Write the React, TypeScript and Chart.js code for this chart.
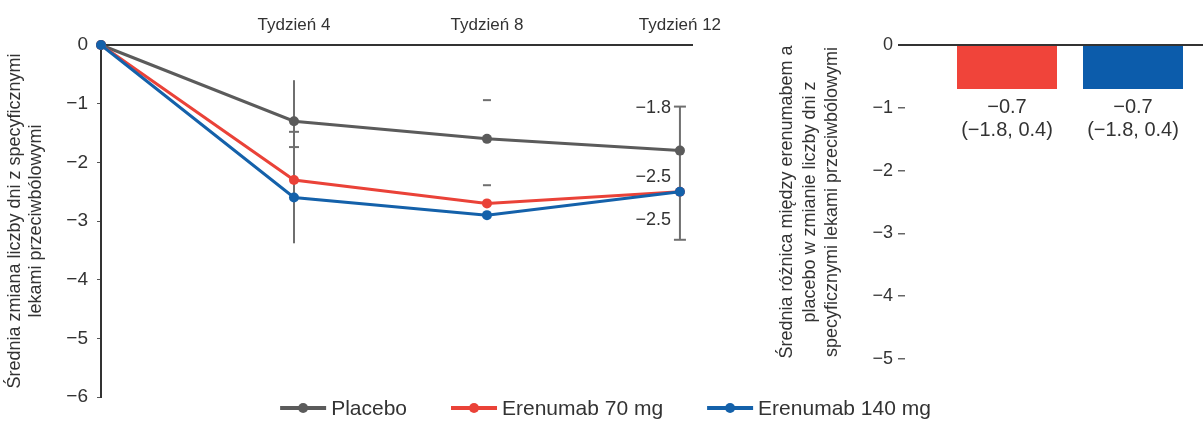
import React, { useEffect, useRef } from 'react';
import { Chart, registerables } from 'chart.js';

Chart.register(...registerables);

// Weekly change in days with acute migraine-specific medication
const weeks = [0, 4, 8, 12];
const weekTicks = [4, 8, 12];
const weekLabel = 'Tydzień';
const placebo = [0, -1.3, -1.6, -1.8];
const erenumab70 = [0, -2.3, -2.7, -2.5];
const erenumab140 = [0, -2.6, -2.9, -2.5];
const seriesNames = ['Placebo', 'Erenumab 70 mg', 'Erenumab 140 mg'];

// Confidence whiskers and their end marks (weeks, values)
const stemWeeks = [4, 12];
const stemHigh = [-0.6, -1.05];
const stemLow = [-3.38, -3.32];
const capWeeks = [4, 4, 8, 8, 12, 12];
const capValues = [-1.48, -1.74, -0.94, -2.39, -1.05, -3.32];

// Week-12 value labels and the value level each is written at
const endLabelValues = [placebo[3], erenumab70[3], erenumab140[3]];
const endLabelAnchors = [-1.07, -2.25, -2.98];

// Mean difference vs placebo at week 12
const diffGroups = ['Erenumab 70 mg', 'Erenumab 140 mg'];
const diffValues = [-0.7, -0.7];
const diffLow = [-1.8, -1.8];
const diffHigh = [0.4, 0.4];

const GRAY = '#5b5b5b';
const RED = '#ea4238';
const BLUE = '#1461aa';
const BAR_RED = '#f0443a';
const BAR_BLUE = '#0c5cab';
const TEXT = '#333333';
const FONT = '"Liberation Sans", Arial, sans-serif';

const fmt = (v: number) => v.toFixed(1).replace('-', '\u2212');
const tickFmt = (v: number) => (v === 0 ? '0' : '\u2212' + Math.abs(v));

const lineExtras = {
  id: 'lineExtras',
  beforeDatasetsDraw(chart: any) {
    const { ctx, scales } = chart;
    const x = scales.x;
    const y = scales.y;
    ctx.save();
    ctx.strokeStyle = '#6f6f6f';
    ctx.lineWidth = 2;
    stemWeeks.forEach((w, i) => {
      const px = x.getPixelForValue(w);
      ctx.beginPath();
      ctx.moveTo(px, y.getPixelForValue(stemHigh[i]));
      ctx.lineTo(px, y.getPixelForValue(stemLow[i]));
      ctx.stroke();
    });
    capWeeks.forEach((w, i) => {
      const px = x.getPixelForValue(w);
      const py = y.getPixelForValue(capValues[i]);
      const half = w === 12 ? 6 : w === 8 ? 4 : 5;
      ctx.beginPath();
      ctx.moveTo(px - half, py);
      ctx.lineTo(px + half, py);
      ctx.stroke();
    });
    ctx.restore();
  },
  afterDatasetsDraw(chart: any) {
    const { ctx, scales } = chart;
    const x = scales.x;
    const y = scales.y;
    ctx.save();
    ctx.fillStyle = TEXT;
    ctx.font = '18px ' + FONT;
    ctx.textAlign = 'right';
    ctx.textBaseline = 'middle';
    const lx = x.getPixelForValue(12) - 9;
    endLabelValues.forEach((v, i) => {
      ctx.fillText(fmt(v), lx, y.getPixelForValue(endLabelAnchors[i]));
    });

    // legend across the bottom of the figure
    const colors = [GRAY, RED, BLUE];
    ctx.font = '21px ' + FONT;
    const marker = 46;
    const gapText = 5;
    const gapItem = 44;
    const widths = seriesNames.map((n) => ctx.measureText(n).width);
    const total = widths.reduce((a, b) => a + b, 0) + seriesNames.length * (marker + gapText) + gapItem * (seriesNames.length - 1);
    let cx = 605.5 - total / 2;
    const ly = 408;
    ctx.textAlign = 'left';
    seriesNames.forEach((n, i) => {
      ctx.strokeStyle = colors[i];
      ctx.fillStyle = colors[i];
      ctx.lineWidth = 4;
      ctx.beginPath();
      ctx.moveTo(cx, ly);
      ctx.lineTo(cx + marker, ly);
      ctx.stroke();
      ctx.beginPath();
      ctx.arc(cx + marker / 2, ly, 5, 0, Math.PI * 2);
      ctx.fill();
      ctx.fillStyle = TEXT;
      ctx.fillText(n, cx + marker + gapText, ly + 1);
      cx += marker + gapText + widths[i] + gapItem;
    });
    ctx.restore();
  },
};

const barLabels = {
  id: 'barLabels',
  afterDatasetsDraw(chart: any) {
    const { ctx } = chart;
    ctx.save();
    ctx.fillStyle = TEXT;
    ctx.font = '20px ' + FONT;
    ctx.textAlign = 'center';
    ctx.textBaseline = 'middle';
    chart.data.datasets.forEach((_: any, i: number) => {
      const el = chart.getDatasetMeta(i).data[0];
      ctx.fillText(fmt(diffValues[i]), el.x, el.y + 19);
      ctx.fillText('(' + fmt(diffLow[i]) + ', ' + fmt(diffHigh[i]) + ')', el.x, el.y + 42);
    });
    ctx.restore();
  },
};

function makeSeries(label: string, data: number[], color: string, order: number) {
  return {
    label,
    data: weeks.map((w, i) => ({ x: w, y: data[i] })),
    borderColor: color,
    backgroundColor: color,
    borderWidth: 3,
    pointRadius: 5,
    pointBorderWidth: 0,
    pointBackgroundColor: color,
    tension: 0,
    clip: false as any,
    order,
  };
}

export default function App() {
  const lineRef = useRef<HTMLCanvasElement>(null);
  const barRef = useRef<HTMLCanvasElement>(null);

  useEffect(() => {
    const lineChart = new Chart(lineRef.current!, {
      type: 'line',
      data: {
        datasets: [
          makeSeries(seriesNames[0], placebo, GRAY, 3),
          makeSeries(seriesNames[1], erenumab70, RED, 2),
          makeSeries(seriesNames[2], erenumab140, BLUE, 1),
        ],
      },
      options: {
        responsive: false,
        animation: false,
        layout: { padding: { left: 0, top: 0, right: 511, bottom: 24 } },
        plugins: { legend: { display: false }, tooltip: { enabled: false } },
        scales: {
          x: {
            type: 'linear',
            position: 'top',
            min: 0,
            max: 12.25,
            afterBuildTicks: (axis: any) => {
              axis.ticks = weekTicks.map((v) => ({ value: v }));
            },
            afterFit: (axis: any) => {
              axis.height = 45;
            },
            grid: { drawOnChartArea: false, drawTicks: false },
            border: { display: true, color: '#333', width: 2 },
            ticks: {
              color: TEXT,
              padding: 9,
              maxRotation: 0,
              font: { family: FONT, size: 17 },
              callback: (v: any) => weekLabel + ' ' + v,
            },
          },
          y: {
            min: -6,
            max: 0,
            afterFit: (axis: any) => {
              axis.width = 101;
            },
            grid: { drawOnChartArea: false, tickLength: 4, color: '#555' },
            border: { display: true, color: '#333', width: 2 },
            ticks: {
              stepSize: 1,
              color: TEXT,
              padding: 9,
              font: { family: FONT, size: 19 },
              callback: (v: any) => tickFmt(Number(v)),
            },
            title: {
              display: true,
              text: ['Średnia zmiana liczby dni z specyficznymi', 'lekami przeciwbólowymi'],
              color: TEXT,
              padding: { top: 5, bottom: 0 },
              font: { family: FONT, size: 18, lineHeight: 1.15 },
            },
          },
        },
      } as any,
      plugins: [lineExtras],
    });

    const barChart = new Chart(barRef.current!, {
      type: 'bar',
      data: {
        labels: [''],
        datasets: diffGroups.map((g, i) => ({
          label: g,
          data: [diffValues[i]],
          backgroundColor: i === 0 ? BAR_RED : BAR_BLUE,
          borderWidth: 0,
          categoryPercentage: 252 / 330,
          barPercentage: 100 / 126,
        })),
      },
      options: {
        responsive: false,
        animation: false,
        layout: { padding: { left: 0, top: 45, right: 0, bottom: 62 } },
        plugins: { legend: { display: false }, tooltip: { enabled: false } },
        scales: {
          x: { display: false },
          y: {
            min: -5,
            max: 0,
            afterFit: (axis: any) => {
              axis.width = 145;
            },
            border: { display: false },
            grid: {
              drawOnChartArea: true,
              tickLength: 7,
              color: (c: any) => (c.tick && c.tick.value === 0 ? '#333' : 'rgba(0,0,0,0)'),
              tickColor: (c: any) => (c.tick && c.tick.value === 0 ? '#333' : '#666'),
              lineWidth: (c: any) => (c.tick && c.tick.value === 0 ? 2 : 1.5),
            },
            ticks: {
              stepSize: 1,
              color: TEXT,
              padding: 5,
              font: { family: FONT, size: 18 },
              callback: (v: any) => tickFmt(Number(v)),
            },
            title: {
              display: true,
              text: ['Średnia różnica między erenumabem a', 'placebo w zmianie liczby dni z', 'specyficznymi lekami przeciwbólowymi'],
              color: TEXT,
              padding: { top: 16, bottom: 0 },
              font: { family: FONT, size: 18, lineHeight: 1.25 },
            },
          },
        },
      } as any,
      plugins: [barLabels],
    });

    return () => {
      lineChart.destroy();
      barChart.destroy();
    };
  }, []);

  return (
    <div
      style={{
        position: 'absolute',
        left: 0,
        top: 0,
        width: 1203,
        height: 421,
        overflow: 'hidden',
        background: '#fff',
      }}
    >
      <canvas ref={lineRef} width={1203} height={421} style={{ position: 'absolute', left: 0, top: 0 }} />
      <canvas ref={barRef} width={475} height={421} style={{ position: 'absolute', left: 760, top: 0 }} />
    </div>
  );
}
